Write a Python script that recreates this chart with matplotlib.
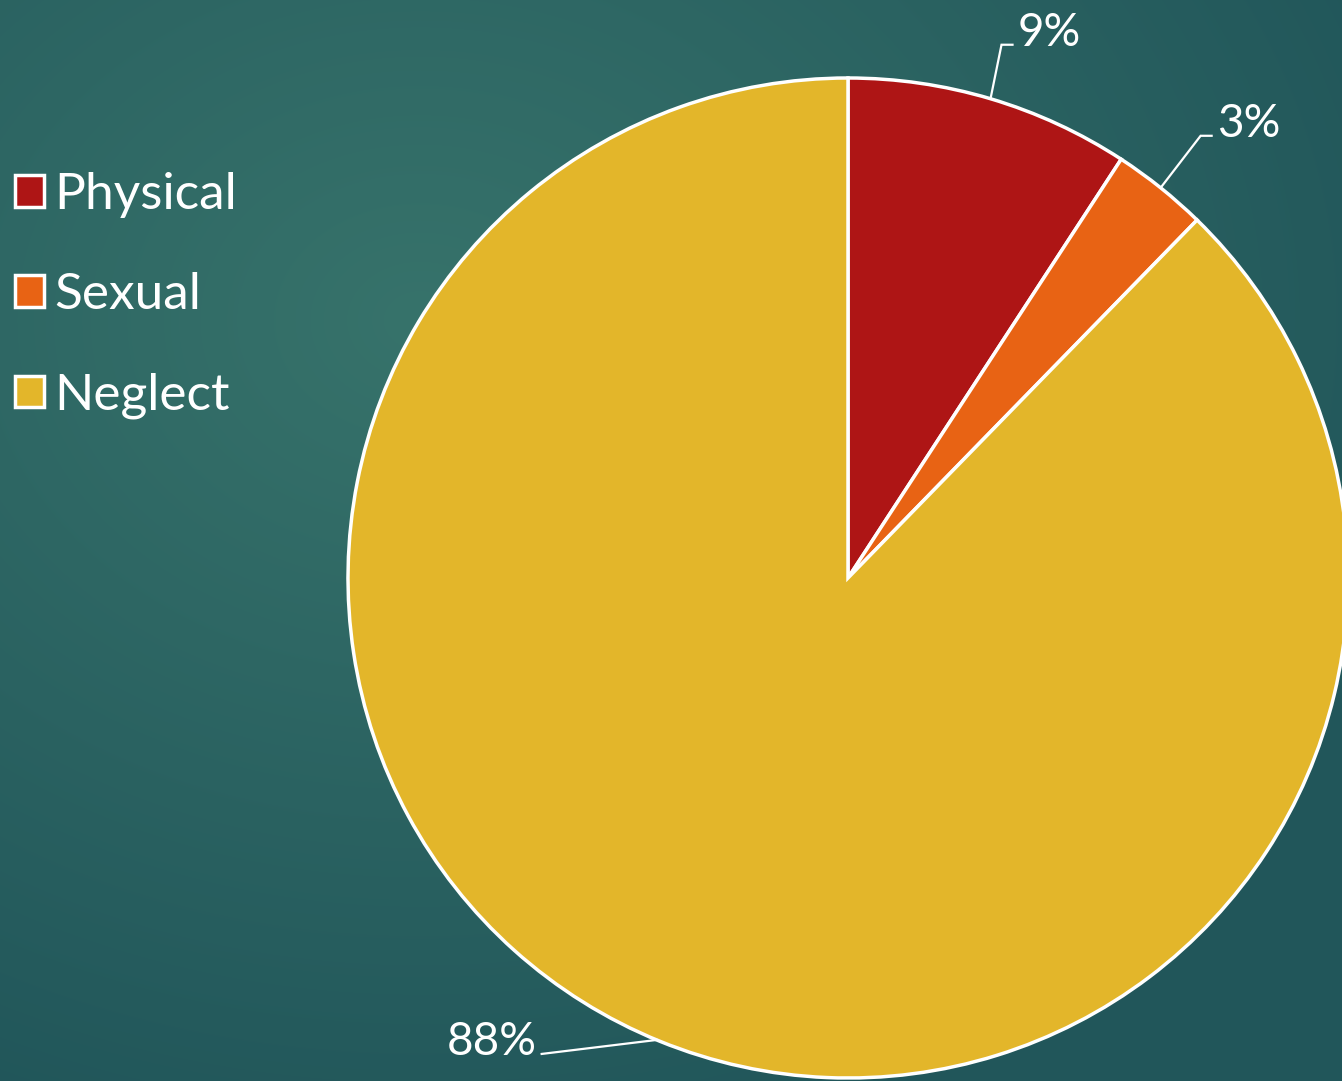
import numpy as np
import matplotlib
matplotlib.use('Agg')
import matplotlib.pyplot as plt

# data
categories = ["Physical", "Sexual", "Neglect"]
shares = [9.2, 3.1, 87.7]
pct_labels = ["9%", "3%", "88%"]
colors = ["#ae1515", "#e86314", "#e3b62a"]

plt.rcParams['font.family'] = ['Lato', 'DejaVu Sans']

W, H = 1342, 1081
fig = plt.figure(figsize=(W / 100, H / 100), dpi=100)

# radial teal background
bg = fig.add_axes([0, 0, 1, 1])
yy, xx = np.mgrid[0:H, 0:W]
d = np.sqrt(((xx - 420) / 1.25) ** 2 + (yy - 320) ** 2) / 850.0
d = np.clip(d, 0, 1)
c0 = np.array([0x37, 0x73, 0x6b]) / 255.0
c1 = np.array([0x21, 0x56, 0x5a]) / 255.0
img = c0[None, None, :] * (1 - d[..., None]) + c1[None, None, :] * d[..., None]
bg.imshow(img, extent=[0, 1, 0, 1], aspect='auto', origin='upper')
bg.axis('off')

# pie axes: center (848, 578) px, radius 500 px
cx, cy, r = 848, 578, 500
ax = fig.add_axes([(cx - r) / W, (H - cy - r) / H, 2 * r / W, 2 * r / H])
wedges, _ = ax.pie(shares, colors=colors, startangle=90, counterclock=False,
                   radius=1.0, wedgeprops=dict(edgecolor='white', linewidth=2.5))
ax.set_xlim(-1, 1)
ax.set_ylim(-1, 1)
ax.set_aspect('auto')
ax.axis('off')
for w in wedges:
    w.set_clip_on(False)

# leader lines: anchor angle on the rim, elbow and end offsets (axes units)
anchor_deg = [None, None, 247.5]
leaders = [((0.022, 0.108), (0.044, 0.108)),
           ((0.080, 0.104), (0.102, 0.104)),
           ((-0.23, -0.028), (-0.23, -0.028))]
for w, lab, a, (elbow, end) in zip(wedges, pct_labels, anchor_deg, leaders):
    ang = (w.theta1 + w.theta2) / 2 if a is None else a
    mid = np.deg2rad(ang)
    x0, y0 = np.cos(mid), np.sin(mid)
    ex, ey = x0 + elbow[0], y0 + elbow[1]
    tx, ty = x0 + end[0], y0 + end[1]
    ax.plot([x0, ex, tx], [y0, ey, ty], color='white', lw=1.6, clip_on=False,
            solid_joinstyle='miter')
    ha = 'left' if end[0] > 0 else 'right'
    ax.text(tx + (0.01 if ha == 'left' else -0.01), ty - 0.002, lab, color='white',
            fontsize=33, ha=ha, va='baseline', clip_on=False)

# legend
fs = 37
leg = fig.legend(wedges, categories, loc='upper left',
                 bbox_to_anchor=(15 / W, 1 - 172 / H),
                 frameon=False, fontsize=fs, labelcolor='white',
                 borderpad=0, borderaxespad=0,
                 handlelength=0.565, handleheight=0.565, handletextpad=0.2,
                 labelspacing=1.055)

fig.savefig('out.png', dpi=100)
